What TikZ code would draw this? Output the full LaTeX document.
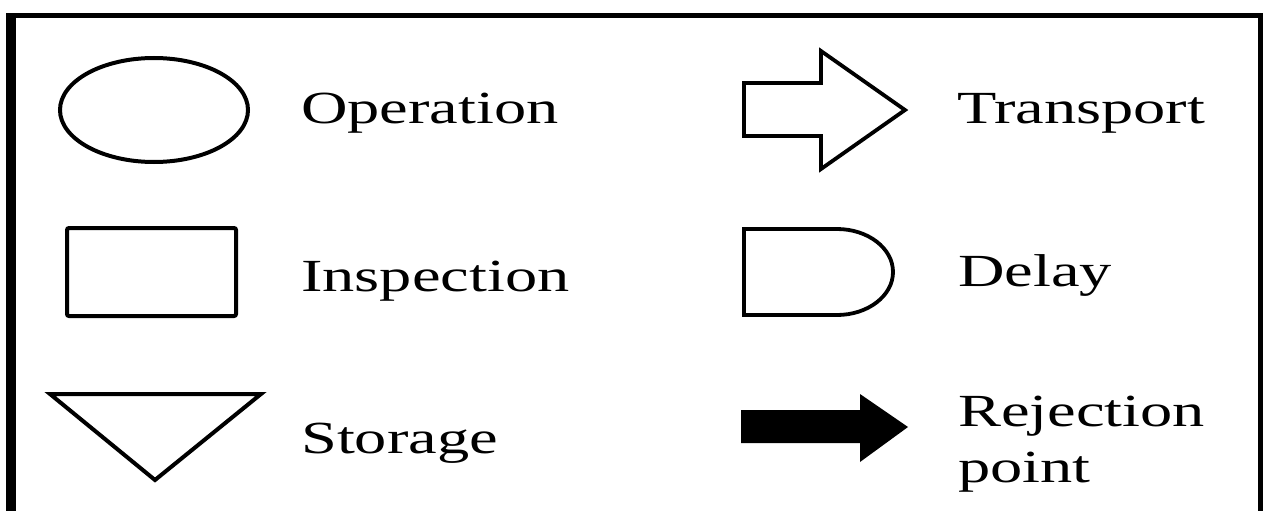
\documentclass[tikz,border=0pt]{standalone}
\usepackage{fontspec}
\setmainfont{Liberation Serif}[FakeStretch=1.4]
\begin{document}
\begin{tikzpicture}[x=1pt,y=-1pt,
  shapeline/.style={draw=black,line width=4pt,line join=miter},
  label/.style={anchor=base west,inner sep=0pt,font=\fontsize{46}{55}\selectfont}]
\useasboundingbox (0,0) rectangle (1263,511);
% frame
\fill[black] (6,13) rectangle (16,511);
\fill[black] (6,13) rectangle (1263,18);
\fill[black] (1258,13) rectangle (1263,511);
% operation
\draw[shapeline] (154,110) ellipse [x radius=94, y radius=52];
\node[label] (op) at (301,123) {Operation};
% inspection
\draw[shapeline,rounded corners=2pt] (67,228) rectangle (236,316);
\node[label] (insp) at (301,291) {Inspection};
% storage
\draw[shapeline] (50,394) -- (261,394) -- (155,480) -- cycle;
\node[label] (stor) at (301,453) {Storage};
% transport
\draw[shapeline,line width=3.8pt] (744,83) -- (821,83) -- (821,51) -- (905,110) -- (821,169) -- (821,136) -- (744,136) -- cycle;
\node[label] (trans) at (957,123) {Transport};
% delay
\draw[shapeline,line width=3.8pt] (744,229) -- (837,229) arc[start angle=-90,end angle=90,x radius=56,y radius=43] -- (744,315) -- cycle;
\node[label] (delay) at (958,286) {Delay};
% rejection
\fill[black] (741,410) -- (860,410) -- (860,394) -- (908,427) -- (860,462) -- (860,443) -- (741,443) -- cycle;
\node[label] (rej) at (958,426) {Rejection};
\node[label] (pt) at (958,482) {point};
\end{tikzpicture}
\end{document}
